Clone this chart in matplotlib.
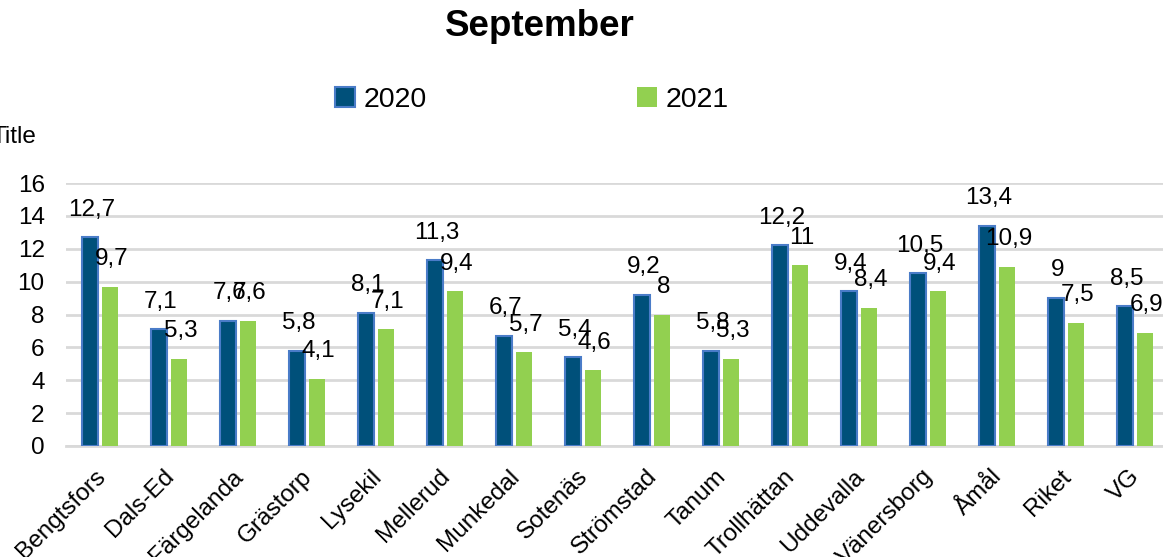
import numpy as np
import matplotlib
matplotlib.use("Agg")
import matplotlib.transforms as mtransforms
from matplotlib import pyplot as plt

plt.rcParams["font.family"] = ["Liberation Sans", "DejaVu Sans"]

kommuner = [
    "Bengtsfors", "Dals-Ed", "Färgelanda", "Grästorp", "Lysekil", "Mellerud",
    "Munkedal", "Sotenäs", "Strömstad", "Tanum", "Trollhättan", "Uddevalla",
    "Vänersborg", "Åmål", "Riket", "VG",
]
varden_2020 = [12.7, 7.1, 7.6, 5.8, 8.1, 11.3, 6.7, 5.4, 9.2, 5.8, 12.2, 9.4, 10.5, 13.4, 9, 8.5]
varden_2021 = [9.7, 5.3, 7.6, 4.1, 7.1, 9.4, 5.7, 4.6, 8, 5.3, 11, 8.4, 9.4, 10.9, 7.5, 6.9]
y_ticks = [0, 2, 4, 6, 8, 10, 12, 14, 16]

farg_2020 = "#00507A"
kant_2020 = "#4A7CC8"
farg_2021 = "#92D050"


def fmt_sv(v):
    # svensk decimalkomma, heltal utan decimaler
    if float(v).is_integer():
        return str(int(v))
    return ("%.1f" % v).replace(".", ",")


W, H = 1163, 557
fig = plt.figure(figsize=(W / 100, H / 100), dpi=100)
ax = fig.add_axes([65.5 / W, (H - 446) / H, 1104 / W, 263 / H])

x = np.arange(len(kommuner))
bw = 0.235
b1 = ax.bar(x - 0.145, varden_2020, bw, color=farg_2020, edgecolor=kant_2020,
            linewidth=1.5, label="2020", zorder=3)
b2 = ax.bar(x + 0.145, varden_2021, bw, color=farg_2021, linewidth=0,
            label="2021", zorder=3)

for xi, v in zip(x - 0.145, varden_2020):
    ax.annotate(fmt_sv(v), (xi, v), xytext=(1, 12), textcoords="offset points",
                ha="center", va="bottom", fontsize=17.5, color="black", zorder=4)
for xi, v in zip(x + 0.145, varden_2021):
    ax.annotate(fmt_sv(v), (xi, v), xytext=(1, 12), textcoords="offset points",
                ha="center", va="bottom", fontsize=17.5, color="black", zorder=4)

ax.set_xlim(-0.5, len(kommuner) - 0.5)
ax.set_ylim(0, 16)
ax.set_yticks(y_ticks)
ax.set_yticklabels([str(t) for t in y_ticks], fontsize=17.5)
ax.yaxis.grid(True, color="#D9D9D9", linewidth=2, zorder=0)
ax.set_axisbelow(True)
ax.tick_params(axis="y", length=0, pad=15)
ax.tick_params(axis="x", length=0, pad=14)
ax.set_xticks(x)
ax.set_xticklabels(kommuner, rotation=45, ha="right", rotation_mode="anchor",
                   fontsize=17.5)
flytt = mtransforms.ScaledTranslation(-6 / 100, 0, fig.dpi_scale_trans)
for lbl in ax.get_xticklabels():
    lbl.set_transform(lbl.get_transform() + flytt)
for s in ["top", "right", "left"]:
    ax.spines[s].set_visible(False)
ax.spines["bottom"].set_color("#D9D9D9")
ax.spines["bottom"].set_linewidth(2)

fig.text(540 / W, 1 - 27 / H, "September", ha="center", va="center",
         fontsize=26.5, fontweight="bold")
fig.text(-9 / W, 1 - 137 / H, "Title", ha="left", va="center", fontsize=17.5)

fig.legend(handles=[b1, b2], labels=["2020", "2021"], loc="center",
           bbox_to_anchor=(532 / W, 1 - 100 / H), ncol=2, frameon=False,
           fontsize=20.5, handlelength=0.7, handleheight=0.7,
           handletextpad=0.3, columnspacing=7.4)

fig.savefig("out.png", dpi=100)
